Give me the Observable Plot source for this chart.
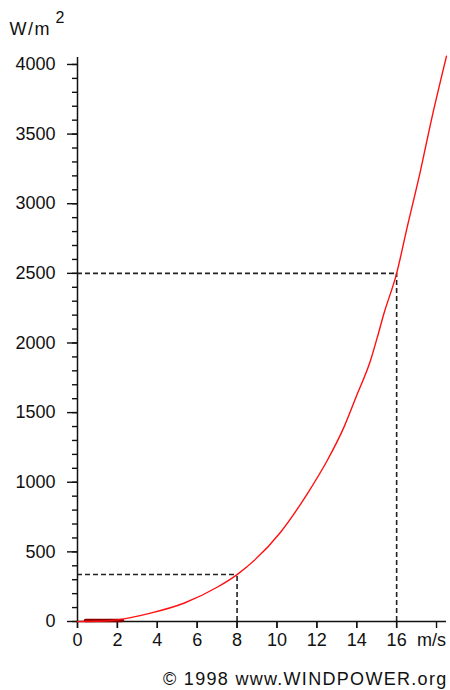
<!DOCTYPE html>
<html>
<head>
<meta charset="utf-8">
<script src="https://cdn.jsdelivr.net/npm/d3@7"></script>
<script src="https://cdn.jsdelivr.net/npm/@observablehq/plot@0.6"></script>
<style>
  html, body { margin: 0; padding: 0; background: #fff; }
  #chart svg { display: block; }
  .copyright { letter-spacing: 1.3px; }
  .unit { letter-spacing: 1.5px; }
</style>
</head>
<body>
<div id="chart"></div>
<script>
// Power density of the wind (W/m²) against wind speed (m/s)
const speed = [0, 1, 2, 3.66, 5.33, 7, 8, 10.18, 11.52, 12.52, 13.36, 14.03, 14.69, 15.03, 15.36, 16, 16.53, 17.2, 17.7, 18.5];
const power = [0, 2, 12, 60, 131, 246, 337, 641, 917, 1156, 1396, 1635, 1874, 2040, 2210, 2500, 2832, 3239, 3574, 4060];

// Reference speeds marked with dashed guides
const guideSpeed = [8, 16];
const guidePower = [337, 2500];

// Calm-wind stretch drawn along the baseline
const calmSpeed = [0.4, 2.25];

// Axis ticks and labels
const xTickValues = [0, 2, 4, 6, 8, 10, 12, 14, 16];
const xUnitTick = 18;
const xUnitLabel = "m/s";
const yMajorTicks = [0, 500, 1000, 1500, 2000, 2500, 3000, 3500, 4000];
const yMinorTicks = d3.range(0, 4001, 100);
const yUnitLabel = "W/m";
const yUnitExponent = "2";
const credit = "© 1998 www.WINDPOWER.org";

const curve = speed.map((v, i) => ({v, p: power[i]}));
const guides = guideSpeed.map((v, i) => ({v, p: guidePower[i]}));

const dash = "5,3";
const guideColor = "#222";

const chart = Plot.plot({
  width: 450,
  height: 690,
  marginLeft: 77,
  marginRight: 4,
  marginTop: 57,
  marginBottom: 69,
  style: {fontFamily: "'Liberation Sans', Arial, sans-serif", fontSize: "18px", color: "#111", background: "#fff"},
  x: {domain: [0, 18.5], axis: null},
  y: {domain: [0, 4050], axis: null},
  marks: [
    // dashed guides: horizontal from the axis, vertical down to the baseline
    Plot.ruleY(guides, {y: "p", x1: 0, x2: "v", stroke: guideColor, strokeWidth: 1.6, strokeDasharray: dash}),
    Plot.ruleX(guides, {x: "v", y1: 0, y2: "p", stroke: guideColor, strokeWidth: 1.6, strokeDasharray: dash}),

    // axis lines
    Plot.ruleX([0], {stroke: "#111", strokeWidth: 1.5}),
    Plot.ruleY([0], {stroke: "#111", strokeWidth: 1.5}),

    // y axis: minor ticks every 100, labelled ticks every 500
    Plot.axisY({ticks: yMinorTicks, tickSize: 5, text: null, strokeWidth: 1.4, label: null}),
    Plot.axisY({ticks: yMajorTicks, tickSize: 10, tickPadding: 12, tickFormat: d => String(d), strokeWidth: 1.4, label: null}),

    // x axis ticks and labels
    Plot.axisX({ticks: [...xTickValues, xUnitTick], tickSize: 7, text: null, strokeWidth: 1.4, label: null}),
    Plot.axisX({ticks: xTickValues, tickSize: 7, tickPadding: 5, tickFormat: d => String(d), strokeWidth: 1.4, label: null}),
    Plot.text([xUnitLabel], {x: xUnitTick, y: 0, dx: -5, dy: 12, lineAnchor: "top", fontSize: 18}),

    // calm stretch along the baseline
    Plot.lineY(calmSpeed.map(v => ({v, p: 0})), {x: "v", y: "p", dy: -1, stroke: "#8a0000", strokeWidth: 3.5}),

    // power curve
    Plot.line(curve, {x: "v", y: "p", stroke: "#ff1010", strokeWidth: 1.4, curve: "monotone-x"}),

    // unit label at the top of the y axis
    Plot.text([yUnitLabel], {frameAnchor: "top-left", dx: -68, dy: -23, textAnchor: "start", lineAnchor: "bottom", fontSize: 18, className: "unit"}),
    Plot.text([yUnitExponent], {frameAnchor: "top-left", dx: -22, dy: -35, textAnchor: "start", lineAnchor: "bottom", fontSize: 16}),

    // credit line
    Plot.text([credit], {frameAnchor: "bottom-right", dx: 1, dy: 63, textAnchor: "end", lineAnchor: "bottom", fontSize: 18, className: "copyright"})
  ]
});

document.getElementById("chart").appendChild(chart);
</script>
</body>
</html>
